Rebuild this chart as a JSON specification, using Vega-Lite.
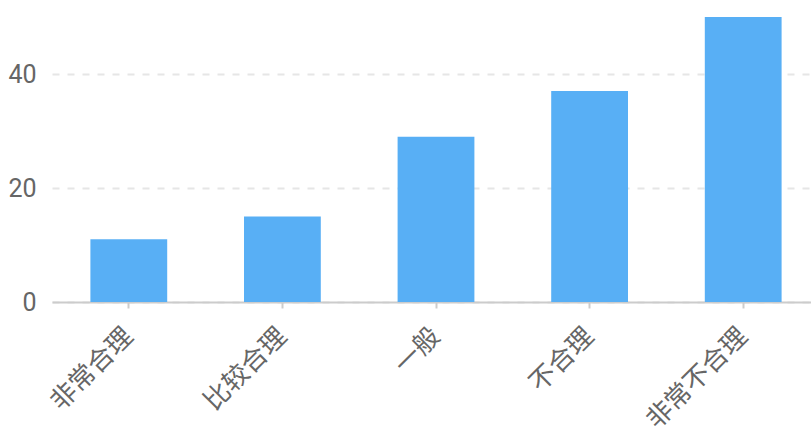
{
  "$schema": "https://vega.github.io/schema/vega-lite/v6.json",
  "autosize": {"type": "none"},
  "padding": {"left": 52, "top": 17, "right": 0, "bottom": 134},
  "width": 768,
  "height": 285,
  "background": "white",
  "config": {"view": {"stroke": null}, "font": "Roboto, Noto Sans CJK SC"},
  "data": {"values": [
    {"category": "非常合理", "value": 11},
    {"category": "比较合理", "value": 15},
    {"category": "一般", "value": 29},
    {"category": "不合理", "value": 37},
    {"category": "非常不合理", "value": 50}
  ]},
  "mark": {"type": "bar", "color": "#58aff5"},
  "encoding": {
    "x": {
      "field": "category", "type": "nominal", "sort": null,
      "scale": {"paddingInner": 0.5, "paddingOuter": 0.25},
      "axis": {
        "title": null, "labelAngle": -45, "labelAlign": "right", "labelBaseline": "middle",
        "labelFontSize": 26, "labelColor": "#666666", "labelPadding": 24,
        "domainColor": "#cccccc", "domainWidth": 2, "tickColor": "#cccccc", "tickSize": 6, "tickWidth": 2,
        "grid": false
      }
    },
    "y": {
      "field": "value", "type": "quantitative",
      "scale": {"domain": [0, 50], "nice": false},
      "axis": {
        "title": null, "values": [0, 20, 40], "domain": false, "ticks": false,
        "labelFontSize": 25, "labelColor": "#666666", "labelPadding": 16,
        "gridColor": "#e6e6e6", "gridDash": [7, 8], "gridWidth": 2
      }
    }
  }
}
